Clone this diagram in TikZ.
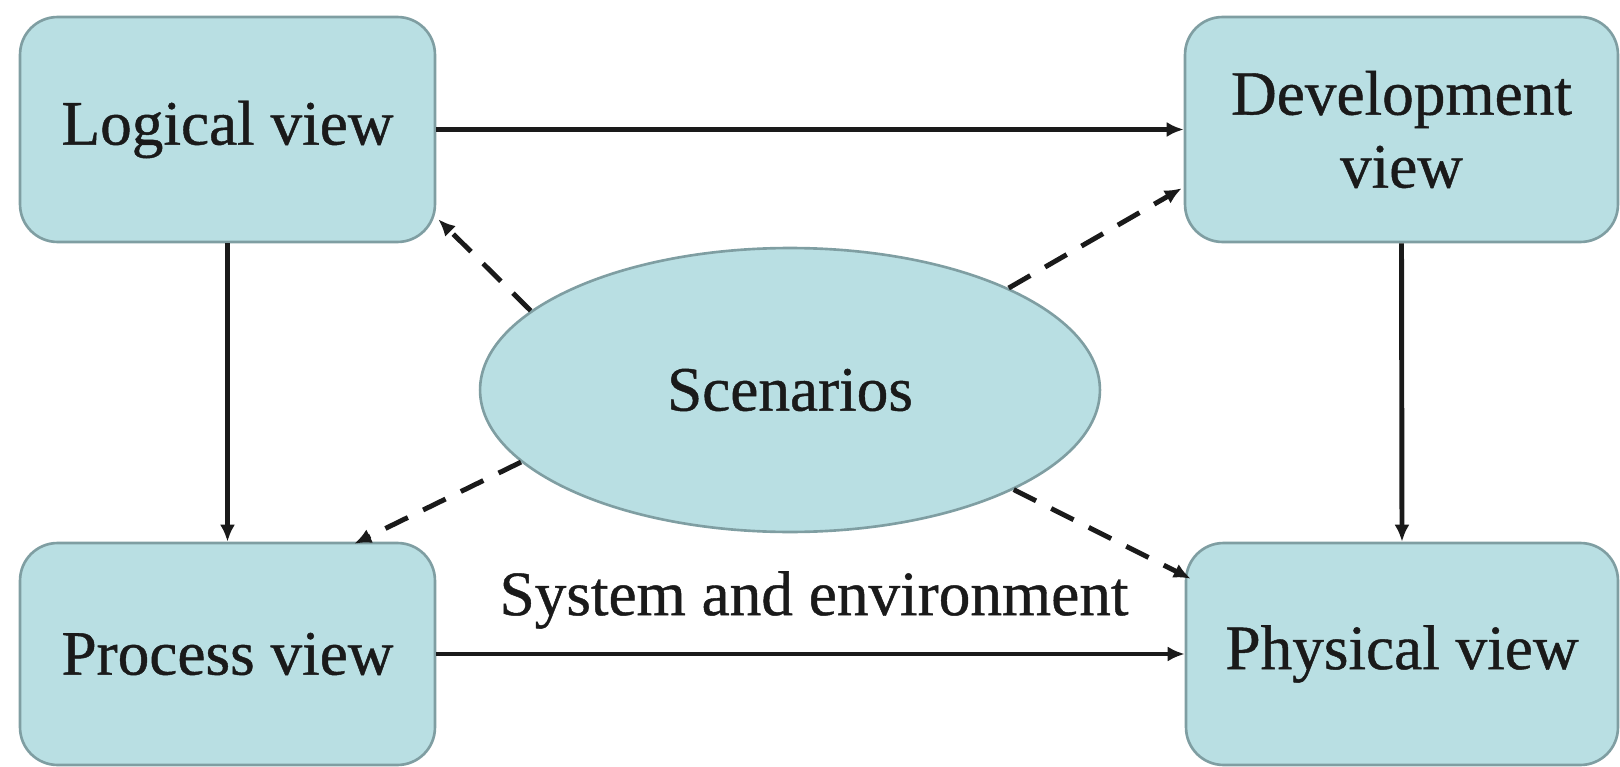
\documentclass[tikz,border=0pt]{standalone}
\usepackage{fontspec}
\setmainfont{Liberation Serif}
\newfontfamily\diagfont{Liberation Serif}[FakeBold=0.7]
\usetikzlibrary{arrows.meta,shapes.geometric,calc}
\definecolor{boxfill}{HTML}{B9DFE3}
\definecolor{boxline}{HTML}{7F9EA2}
\definecolor{ink}{HTML}{1A1A1A}
\begin{document}
\begin{tikzpicture}[x=0.02cm,y=-0.02cm,
  font=\diagfont\fontsize{36}{41.5}\selectfont,
  viewbox/.style={draw=boxline,line width=1.5pt,fill=boxfill,rounded corners=0.75cm,
    minimum height=4.5cm,inner sep=0pt,align=center,text=ink},
  scenbox/.style={ellipse,draw=boxline,line width=1.5pt,fill=boxfill,minimum width=12.4cm,
    minimum height=5.68cm,inner sep=0pt,text=ink},
  solidarrow/.style={draw=ink,line width=2.8pt,-{Latex[length=0.34cm,width=0.3cm]}},
  dasharrow/.style={draw=ink,line width=2.8pt,dash pattern=on 0.5cm off 0.34cm,-{Latex[length=0.34cm,width=0.3cm]}}
]
\useasboundingbox (0,0) rectangle (1620,767);
\node[viewbox,minimum width=8.3cm] (logical) at (227.5,129.5) {Logical view};
\node[viewbox,minimum width=8.66cm] (dev) at (1401.5,129.5) {Development\\view};
\node[viewbox,minimum width=8.3cm,minimum height=4.44cm] (process) at (227.5,654) {Process view};
\node[viewbox,minimum width=8.64cm,minimum height=4.44cm] (physical) at (1402,654) {Physical view};
\node[scenbox] (scen) at (790,390) {Scenarios};
\node[text=ink] (sysenv) at (814,600) {System and environment};

\draw[solidarrow] (logical.east) -- (dev.west);
\draw[solidarrow] (logical.south) -- (process.north);
\draw[solidarrow] (dev.south) -- (physical.north);
\draw[solidarrow] (process.east) -- (physical.west);

\draw[dasharrow] (scen.163) -- ([shift={(2,-24)}]logical.south east);
\draw[dasharrow] (scen.25) -- ([shift={(-2,-55)}]dev.south west);
\draw[dasharrow] (scen.195) -- ([shift={(-82,2)}]process.north east);
\draw[dasharrow] (scen.336) -- ([shift={(6,37)}]physical.north west);
\end{tikzpicture}
\end{document}
